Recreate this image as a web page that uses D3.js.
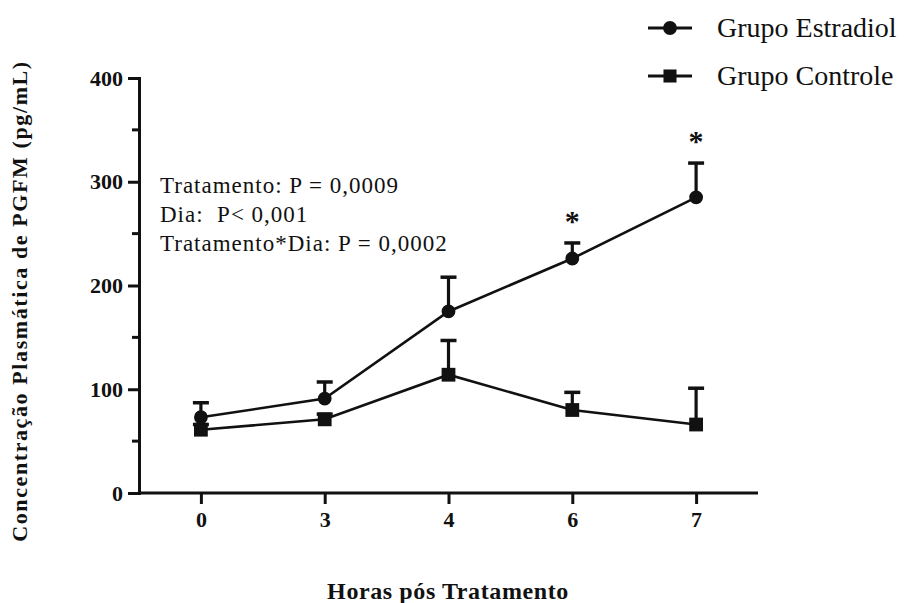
<!DOCTYPE html>
<html lang="pt">
<head>
<meta charset="utf-8">
<title>PGFM</title>
<script src="https://d3js.org/d3.v7.min.js"></script>
<style>
  body { margin: 0; background: #fff; }
  text { font-family: "Liberation Serif", "Times New Roman", serif; fill: #111; }
</style>
</head>
<body>
<div class="chart"></div>
<script>
// dados
const horas = ["0", "3", "4", "6", "7"];
const estradiol = [73, 91, 175, 226, 285];
const estradiolErro = [14, 16, 33, 15, 33];
const controle = [61, 71, 114, 80, 66];
const controleErro = [5, 5, 33, 17, 35];
const signif = ["", "", "", "*", "*"];
const yTicks = [0, 100, 200, 300, 400];
const estatistica = ["Tratamento: P = 0,0009", "Dia:  P< 0,001", "Tratamento*Dia: P = 0,0002"];

const width = 908, height = 603;
const svg = d3.select(".chart").append("svg")
    .attr("width", width).attr("height", height);

const x = d3.scalePoint().domain(horas).range([139, 758]).padding(0.5);
const y = d3.scaleLinear().domain([0, 400]).range([493, 78]);

// eixo y
const yAxis = svg.append("g").attr("transform", "translate(139,0)")
    .call(d3.axisLeft(y).tickValues(yTicks).tickSize(11).tickPadding(5));
yAxis.append("g").selectAll("line")
    .data([50, 150, 250, 350]).join("line")
    .attr("x1", -7).attr("x2", 0)
    .attr("y1", d => y(d)).attr("y2", d => y(d));

// eixo x
const xAxis = svg.append("g").attr("transform", "translate(0,493)")
    .call(d3.axisBottom(x).tickSize(11).tickPadding(7));
xAxis.select(".domain").attr("d", "M139,0H758");

svg.selectAll(".domain, .tick line, g line").attr("stroke", "#111").attr("stroke-width", 3);
svg.selectAll(".tick text")
    .style("font-family", "'Liberation Serif', serif")
    .style("font-weight", "bold").style("font-size", "22px").attr("fill", "#111");

// séries
function desenha(vals, erros, simbolo) {
  const g = svg.append("g");
  g.append("path")
      .datum(vals)
      .attr("fill", "none").attr("stroke", "#111").attr("stroke-width", 2.6)
      .attr("d", d3.line().x((d, i) => x(horas[i])).y(d => y(d)));
  g.selectAll(".erro").data(vals).join("g").each(function(d, i) {
    const s = d3.select(this), cx = x(horas[i]);
    s.append("line").attr("x1", cx).attr("x2", cx)
        .attr("y1", y(d)).attr("y2", y(d + erros[i]))
        .attr("stroke", "#111").attr("stroke-width", 3.2);
    s.append("line").attr("x1", cx - 8).attr("x2", cx + 8)
        .attr("y1", y(d + erros[i])).attr("y2", y(d + erros[i]))
        .attr("stroke", "#111").attr("stroke-width", 3.5);
  });
  g.selectAll(".pt").data(vals).join("path")
      .attr("transform", (d, i) => `translate(${x(horas[i])},${y(d)})`)
      .attr("d", d3.symbol().type(simbolo).size(simbolo === d3.symbolCircle ? 150 : 190))
      .attr("fill", "#111");
}
desenha(controle, controleErro, d3.symbolSquare);
desenha(estradiol, estradiolErro, d3.symbolCircle);

// asteriscos
svg.selectAll(".ast").data(signif).join("text")
    .attr("x", (d, i) => x(horas[i]))
    .attr("y", (d, i) => y(estradiol[i] + estradiolErro[i]) + 2 - 14)
    .attr("text-anchor", "middle")
    .style("font-size", "30px").style("font-weight", "bold")
    .text(d => d);

// texto estatístico
svg.selectAll(".est").data(estatistica).join("text")
    .attr("x", 160).attr("y", (d, i) => 193 + i * 29)
    .style("font-size", "23px").style("letter-spacing", "1px").style("white-space", "pre")
    .text(d => d);

// legenda
const legenda = [["Grupo Estradiol", d3.symbolCircle], ["Grupo Controle", d3.symbolSquare]];
legenda.forEach(([nome, simb], i) => {
  const ly = 28 + i * 48;
  svg.append("line").attr("x1", 648).attr("x2", 692).attr("y1", ly).attr("y2", ly)
      .attr("stroke", "#111").attr("stroke-width", 3);
  svg.append("path").attr("transform", `translate(670,${ly})`)
      .attr("d", d3.symbol().type(simb).size(simb === d3.symbolCircle ? 150 : 170))
      .attr("fill", "#111");
  svg.append("text").attr("x", 717).attr("y", ly + 9)
      .style("font-size", "28px").text(nome);
});

// títulos dos eixos
svg.append("text")
    .attr("transform", "translate(27,301) rotate(-90)")
    .attr("text-anchor", "middle")
    .style("font-size", "22px").style("font-weight", "bold").style("letter-spacing", "1.6px")
    .text("Concentração Plasmática de PGFM (pg/mL)");
svg.append("text")
    .attr("x", 448).attr("y", 599)
    .attr("text-anchor", "middle")
    .style("font-size", "24px").style("font-weight", "bold").style("letter-spacing", "0.6px")
    .text("Horas pós Tratamento");
</script>
</body>
</html>
